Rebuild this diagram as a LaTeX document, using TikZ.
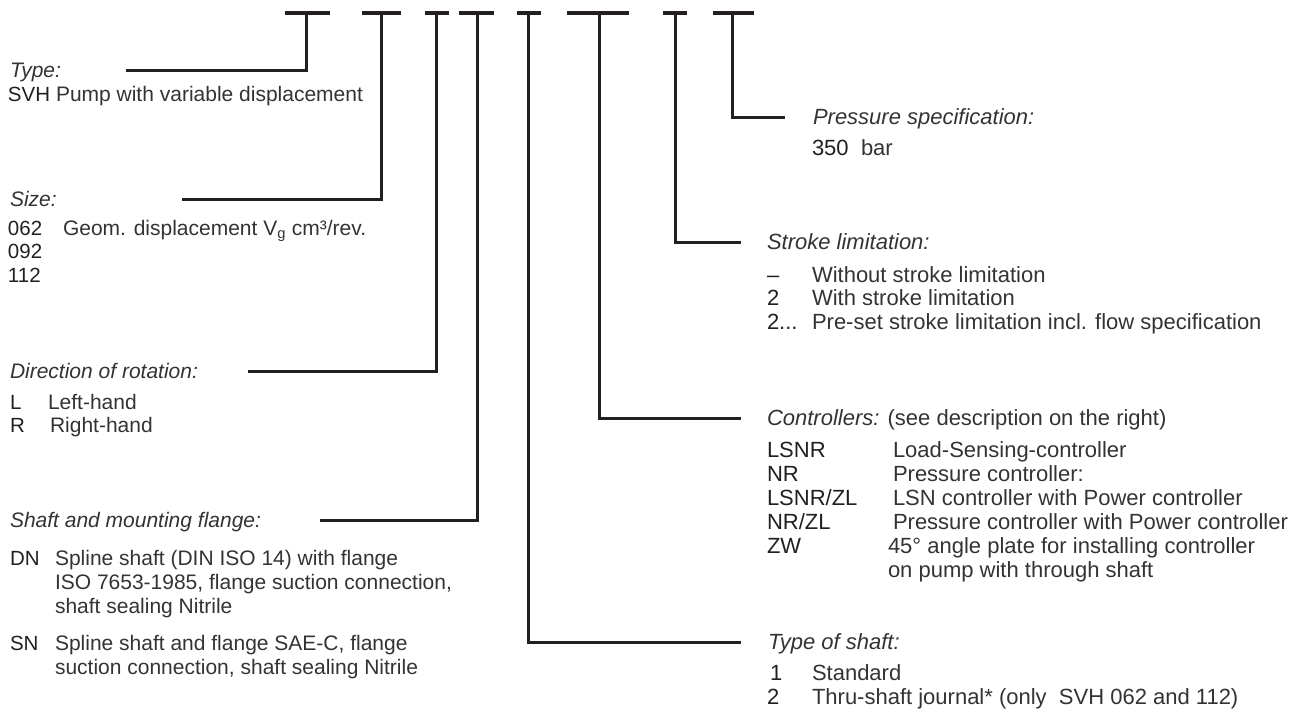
\documentclass[tikz,border=0pt]{standalone}
\usepackage{fontspec}
\setmainfont{Liberation Sans}
\definecolor{ink}{HTML}{231F20}
\definecolor{inktxt}{HTML}{333333}
\newcommand\fsL{\fontsize{21}{24}\selectfont}
\newcommand\fsLab{\fontsize{20.5}{24}\selectfont}
\newcommand\fsR{\fontsize{22}{24}\selectfont}
\tikzset{
  bar/.style={line width=3.5pt, draw=ink},
  conn/.style={line width=3pt, draw=ink, line join=miter},
  txt/.style={anchor=base west, inner sep=0pt, outer sep=0pt, text=inktxt},
  headL/.style={txt, font=\fsL\itshape},
  labL/.style={txt, font=\fsLab, text=ink},
  descL/.style={txt, font=\fsL},
  headR/.style={txt, font=\fsR\itshape},
  labR/.style={txt, font=\fsR, text=ink},
  descR/.style={txt, font=\fsR},
}
\begin{document}
\begin{tikzpicture}[x=1pt,y=-1pt]
\useasboundingbox (0,0) rectangle (1304,713);
% top bars
\coordinate (b1) at (306.7,13);
\coordinate (b2) at (381.7,13);
\coordinate (b3) at (436.7,13);
\coordinate (b4) at (477.3,13);
\coordinate (b5) at (528.3,13);
\coordinate (b6) at (599.3,13);
\coordinate (b7) at (675,13);
\coordinate (b8) at (732.7,13);
\draw[bar] (285,13) -- (330,13);
\draw[bar] (362,13) -- (401,13);
\draw[bar] (425,13) -- (449,13);
\draw[bar] (459,13) -- (494,13);
\draw[bar] (517,13) -- (541,13);
\draw[bar] (567,13) -- (629,13);
\draw[bar] (663,13) -- (687,13);
\draw[bar] (713,13) -- (754,13);
% free ends of connectors
\coordinate (eType) at (126,70);
\coordinate (eSize) at (182,199);
\coordinate (eDir) at (248,371);
\coordinate (eShaft) at (320,520);
\coordinate (eTShaft) at (741,642);
\coordinate (eCtrl) at (741,418);
\coordinate (eStroke) at (741,242);
\coordinate (ePress) at (785,117);
\draw[conn] (b1) |- (eType);
\draw[conn] (b2) |- (eSize);
\draw[conn] (b3) |- (eDir);
\draw[conn] (b4) |- (eShaft);
\draw[conn] (b5) |- (eTShaft);
\draw[conn] (b6) |- (eCtrl);
\draw[conn] (b7) |- (eStroke);
\draw[conn] (b8) |- (ePress);
% Type
\node[headL] (hType) at (10,77) {Type:};
\node[labL] (lSVH) at (8,101) {SVH};
\node[descL] (dSVH) at (56,101) {Pump with variable displacement};
% Size
\node[headL] (hSize) at (10,206) {Size:};
\node[labL] (l062) at (8,235) {062};
\node[descL] (d062) at (63,235) {Geom. displacement V\textsubscript{g} cm³/rev.};
\node[labL] (l092) at (8,258.5) {092};
\node[labL] (l112) at (8,282) {112};
% Direction
\node[headL] (hDir) at (10,378) {Direction of rotation:};
\node[labL] (lL) at (10,409) {L};
\node[descL] (dL) at (48,409) {Left-hand};
\node[labL] (lR) at (10,432) {R};
\node[descL] (dR) at (50,432) {Right-hand};
% Shaft and mounting flange
\node[headL] (hShaft) at (10,527) {Shaft and mounting flange:};
\node[labL] (lDN) at (10,565) {DN};
\node[descL] (dDN1) at (55,565) {Spline shaft (DIN ISO 14) with flange};
\node[descL] (dDN2) at (55,589) {ISO 7653-1985, flange suction connection,};
\node[descL] (dDN3) at (55,613) {shaft sealing Nitrile};
\node[labL] (lSN) at (10,650) {SN};
\node[descL] (dSN1) at (55,650) {Spline shaft and flange SAE-C, flange};
\node[descL] (dSN2) at (55,674) {suction connection, shaft sealing Nitrile};
% Pressure specification
\node[headR] (hPress) at (813,124) {Pressure specification:};
\node[labR] (l350) at (812,155) {350};
\node[descR] (d350) at (861,155) {bar};
% Stroke limitation
\node[headR] (hStroke) at (767,249) {Stroke limitation:};
\node[labR] (lS0) at (767,282) {–};
\node[descR] (dS0) at (812,282) {Without stroke limitation};
\node[labR] (lS2) at (767,305) {2};
\node[descR] (dS2) at (812,305) {With stroke limitation};
\node[labR] (lS3) at (767,329) {2...};
\node[descR] (dS3) at (812,329) {Pre-set stroke limitation incl. flow specification};
% Controllers
\node[headR] (hCtrl) at (767,425) {Controllers: \upshape(see description on the right)};
\node[labR] (lC1) at (767,457) {LSNR};
\node[descR] (dC1) at (893,457) {Load-Sensing-controller};
\node[labR] (lC2) at (767,481) {NR};
\node[descR] (dC2) at (893,481) {Pressure controller:};
\node[labR] (lC3) at (767,505) {LSNR/ZL};
\node[descR] (dC3) at (893,505) {LSN controller with Power controller};
\node[labR] (lC4) at (767,529) {NR/ZL};
\node[descR] (dC4) at (893,529) {Pressure controller with Power controller};
\node[labR] (lC5) at (767,553) {ZW};
\node[descR] (dC5) at (888,553) {45° angle plate for installing controller};
\node[descR] (dC6) at (888,577) {on pump with through shaft};
% Type of shaft
\node[headR] (hTShaft) at (768,649) {Type of shaft:};
\node[labR] (lT1) at (770,680) {1};
\node[descR] (dT1) at (812,680) {Standard};
\node[labR] (lT2) at (767,704) {2};
\node[descR] (dT2) at (812,704) {Thru-shaft journal* (only\ \ SVH 062 and 112)};
\end{tikzpicture}
\end{document}
